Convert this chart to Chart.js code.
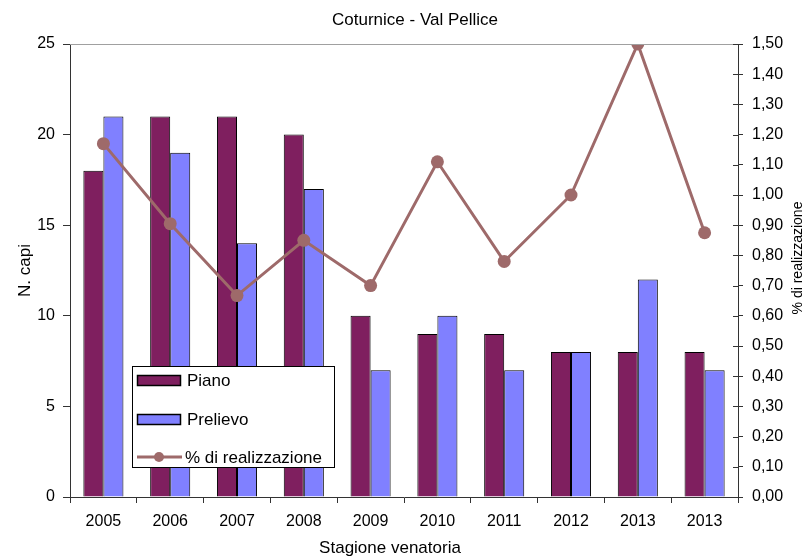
<!DOCTYPE html>
<html>
<head>
<meta charset="utf-8">
<script src="https://cdn.jsdelivr.net/npm/chart.js@4/dist/chart.umd.min.js"></script>
<style>
  html, body { margin: 0; padding: 0; background: #fff; }
  #wrap { width: 809px; height: 560px; }
</style>
</head>
<body>
<div id="wrap"><canvas id="chart" width="809" height="560"></canvas></div>
<script>
const stagioni = ["2005", "2006", "2007", "2008", "2009", "2010", "2011", "2012", "2013", "2013"];
const piano = [18, 21, 21, 20, 10, 9, 9, 8, 8, 8];
const prelievo = [21, 19, 14, 17, 7, 10, 7, 8, 12, 7];
const realizzazione = [1.17, 0.905, 0.667, 0.85, 0.70, 1.11, 0.78, 1.00, 1.50, 0.875];

const FONT = "'Liberation Sans', Arial, sans-serif";
Chart.defaults.font.family = FONT;
Chart.defaults.font.size = 16;
Chart.defaults.color = "#000";

// titolo, bordo superiore, tacche dell'asse destro e legenda interna
const extras = {
  id: "extras",
  afterDraw(chart) {
    const ctx = chart.ctx;
    const a = chart.chartArea;
    ctx.save();

    ctx.strokeStyle = "#a0a0a0";
    ctx.lineWidth = 1;
    ctx.beginPath();
    ctx.moveTo(a.left, a.top + 0.5);
    ctx.lineTo(a.right, a.top + 0.5);
    ctx.stroke();

    // tacche interne asse destro
    const y1 = chart.scales.y1;
    ctx.strokeStyle = "#333";
    ctx.beginPath();
    y1.ticks.forEach((t, i) => {
      const y = Math.round(y1.getPixelForTick(i)) + 0.5;
      ctx.moveTo(a.right - 5, y);
      ctx.lineTo(a.right, y);
    });
    ctx.stroke();

    ctx.fillStyle = "#000";
    ctx.font = "17px " + FONT;
    ctx.textAlign = "center";
    ctx.textBaseline = "middle";
    ctx.fillText("Coturnice - Val Pellice", 415, 20);
    ctx.fillText("Stagione venatoria", 390, 548);

    ctx.save();
    ctx.font = "14px " + FONT;
    ctx.translate(798, 258);
    ctx.rotate(-Math.PI / 2);
    ctx.fillText("% di realizzazione", 0, 0);
    ctx.restore();

    // legenda
    const lx = 132, ly = 366, lw = 202, lh = 101;
    ctx.fillStyle = "#fff";
    ctx.fillRect(lx, ly, lw, lh);
    ctx.strokeStyle = "#000";
    ctx.lineWidth = 1;
    ctx.strokeRect(lx + 0.5, ly + 0.5, lw, lh);
    const rows = [14, 53, 91];
    ctx.font = "17px " + FONT;
    ctx.textAlign = "left";
    chart.data.datasets.forEach((ds, i) => {
      const y = ly + rows[i];
      if (ds.type === "line") {
        ctx.strokeStyle = ds.borderColor;
        ctx.lineWidth = 3;
        ctx.beginPath();
        ctx.moveTo(lx + 5, y);
        ctx.lineTo(lx + 50, y);
        ctx.stroke();
        ctx.fillStyle = ds.backgroundColor;
        ctx.beginPath();
        ctx.arc(lx + 27, y, 5, 0, Math.PI * 2);
        ctx.fill();
      } else {
        ctx.fillStyle = ds.backgroundColor;
        ctx.fillRect(lx + 5, y - 5, 43, 10);
        ctx.strokeStyle = "#000";
        ctx.lineWidth = 1.5;
        ctx.strokeRect(lx + 5.5, y - 4.5, 43, 10);
      }
      ctx.fillStyle = "#000";
      ctx.fillText(ds.label, lx + (ds.type === "line" ? 53 : 55), y + 1);
    });
    ctx.restore();
  }
};

new Chart(document.getElementById("chart"), {
  data: {
    labels: stagioni,
    datasets: [
      {
        type: "bar",
        label: "Piano",
        data: piano,
        backgroundColor: "#7f1f5f",
        borderColor: "#000",
        borderWidth: 1,
        yAxisID: "y",
        order: 2,
        categoryPercentage: 0.6,
        barPercentage: 1
      },
      {
        type: "bar",
        label: "Prelievo",
        data: prelievo,
        backgroundColor: "#8080ff",
        borderColor: "#000",
        borderWidth: 1,
        yAxisID: "y",
        order: 2,
        categoryPercentage: 0.6,
        barPercentage: 1
      },
      {
        type: "line",
        label: "% di realizzazione",
        data: realizzazione,
        borderColor: "#9e6a6a",
        backgroundColor: "#9e6a6a",
        borderWidth: 3,
        pointRadius: 6.5,
        pointBorderWidth: 0,
        tension: 0,
        yAxisID: "y1",
        order: 0
      }
    ]
  },
  options: {
    responsive: false,
    animation: false,
    layout: { padding: { top: 44, left: 0, right: 0, bottom: 0 } },
    plugins: {
      legend: { display: false },
      title: { display: false },
      tooltip: { enabled: false }
    },
    scales: {
      x: {
        offset: true,
        grid: { display: true, drawOnChartArea: false, offset: true, color: "#333", tickLength: 6 },
        border: { color: "#333", width: 1 },
        ticks: { padding: 9, maxRotation: 0, autoSkip: false },
        title: { display: false },
        afterFit(s) { s.height = 63; }
      },
      y: {
        position: "left",
        min: 0,
        max: 25,
        ticks: { stepSize: 5, padding: 8 },
        grid: { drawOnChartArea: false, color: "#333", tickLength: 7 },
        border: { color: "#333", width: 1 },
        title: { display: true, text: "N. capi", font: { size: 17 }, padding: { top: 15, bottom: 0 } },
        afterFit(s) { s.width = 70; }
      },
      y1: {
        position: "right",
        min: 0,
        max: 1.5,
        ticks: {
          stepSize: 0.1,
          padding: 9,
          callback: (v) => v.toFixed(2).replace(".", ",")
        },
        grid: { drawOnChartArea: false, color: "#333", tickLength: 5 },
        border: { color: "#333", width: 1 },
        afterFit(s) { s.width = 71; }
      }
    }
  },
  plugins: [extras]
});
</script>
</body>
</html>
